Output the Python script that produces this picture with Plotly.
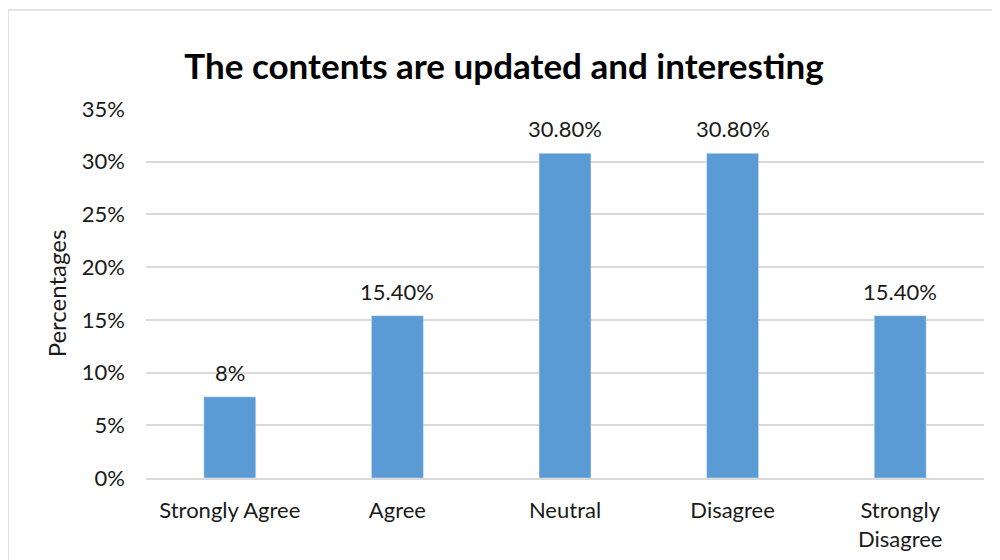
import plotly.graph_objects as go

categories = ["Strongly Agree", "Agree", "Neutral", "Disagree", "Strongly<br>Disagree"]
values = [0.077, 0.154, 0.308, 0.308, 0.154]
labels = ["8%", "15.40%", "30.80%", "30.80%", "15.40%"]
tick_vals = [0, 0.05, 0.10, 0.15, 0.20, 0.25, 0.30, 0.35]
tick_text = ["0%", "5%", "10%", "15%", "20%", "25%", "30%", "35%"]

FONT = "Lato, Open Sans, sans-serif"
TXT = "#1a1a1a"

fig = go.Figure(go.Bar(
    x=categories,
    y=values,
    marker_color="#5B9BD5",
    width=0.31,
    hovertemplate="%{x}: %{y:.1%}<extra></extra>",
))

# value labels sit a bit higher above the bars than plotly's outside text
for cat, val, lab in zip(categories, values, labels):
    fig.add_annotation(
        x=cat, y=val, text=lab,
        showarrow=False, yanchor="bottom", yshift=9,
        font=dict(size=22, color=TXT, family=FONT),
    )

# page body adds an 8px offset, so margins are set relative to that
fig.update_layout(
    width=1000, height=560,
    margin=dict(l=138, r=24, t=101, b=90),
    paper_bgcolor="white",
    plot_bgcolor="white",
    font=dict(family=FONT, color=TXT, size=22),
    title=dict(
        text="<b>The contents are updated and interesting</b>",
        x=0.496, xanchor="center",
        y=0.895, yanchor="middle",
        font=dict(size=35, family=FONT, color="black"),
    ),
    showlegend=False,
)

fig.update_yaxes(
    range=[0, 0.35],
    tickvals=tick_vals,
    ticktext=tick_text,
    showgrid=True,
    gridcolor="#d9d9d9",
    gridwidth=1.5,
    zeroline=False,
    showline=False,
    ticks="",
    ticklabelstandoff=20,
    automargin=False,
    tickfont=dict(size=22),
    title=dict(text="Percentages", font=dict(size=24), standoff=8),
)
fig.update_xaxes(
    showline=True,
    linecolor="#d9d9d9",
    linewidth=1.5,
    ticks="",
    ticklabelstandoff=12,
    automargin=False,
    tickfont=dict(size=22),
)

# chart border
fig.add_shape(
    type="rect", xref="paper", yref="paper",
    x0=-0.1647, x1=1.0155, y0=-0.4, y1=1.268,
    line=dict(color="#d9d9d9", width=1.5),
    layer="below",
)

fig.write_html("out.html")
